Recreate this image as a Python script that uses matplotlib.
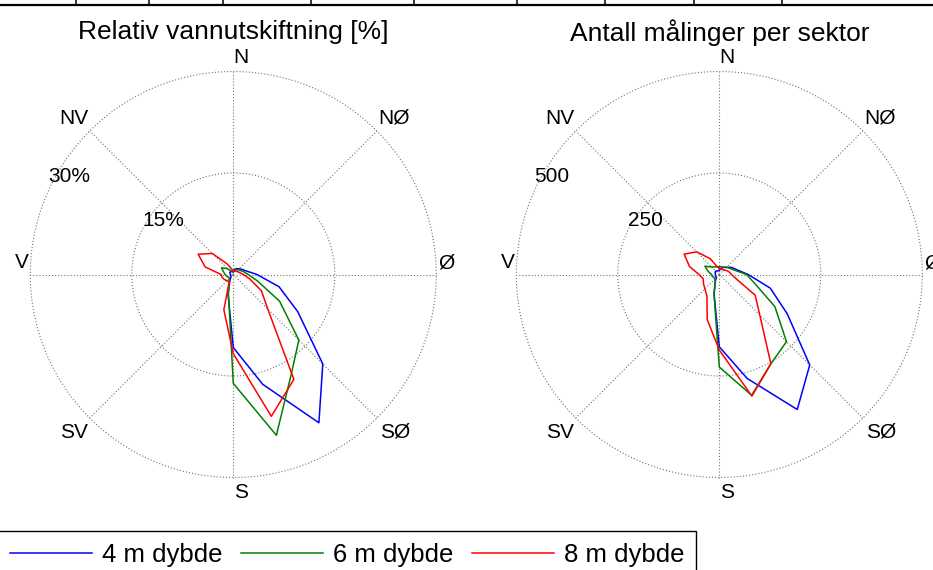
import numpy as np
import matplotlib.pyplot as plt
from matplotlib.lines import Line2D

plt.rcParams['font.family'] = ['Liberation Sans', 'DejaVu Sans']

# 15 degree direction sectors, compass convention (0 = N, clockwise)
sectors = np.arange(0, 360, 15)

# relative water exchange per sector [%]
rel_4m = [0.5, 0.8, 1.0, 1.2, 1.5, 2.0, 3.5, 7.0, 11.0, 18.7, 25.3, 16.8,
          10.8, 3.0, 1.0, 0.5, 0.4, 0.4, 0.4, 0.5, 0.6, 0.6, 0.5, 0.4]
rel_6m = [0.4, 0.6, 0.8, 1.0, 1.2, 1.6, 2.2, 3.7, 7.9, 13.7, 17.1, 24.6,
          16.1, 2.8, 1.2, 0.8, 0.8, 1.0, 1.2, 1.5, 2.0, 1.2, 0.6, 0.5]
rel_8m = [0.5, 0.5, 0.6, 0.7, 0.8, 1.0, 1.5, 2.5, 4.8, 7.2, 17.9, 21.7,
          11.7, 5.4, 1.2, 1.3, 1.5, 1.7, 1.8, 4.3, 6.0, 4.4, 1.8, 0.8]

# number of measurements per sector
cnt_4m = [10, 15, 20, 25, 35, 45, 71, 130, 193, 315, 384, 265,
          178, 50, 20, 10, 10, 10, 10, 10, 12, 12, 10, 10]
cnt_6m = [19, 20, 21, 25, 30, 40, 67, 92, 158, 234, 254, 308,
          228, 50, 20, 15, 15, 18, 19, 28, 41, 26, 22, 19]
cnt_8m = [15, 15, 15, 15, 20, 25, 30, 44, 102, 141, 254, 310,
          186, 115, 61, 50, 45, 41, 50, 76, 100, 79, 45, 20]

series_labels = ['4 m dybde', '6 m dybde', '8 m dybde']
colors = ['#0000ff', '#008000', '#ff0000']
compass = ['N', 'NØ', 'Ø', 'SØ', 'S', 'SV', 'V', 'NV']

# label offsets from the rose centre in pixels (x right, y down)
compass_px = [(7.7, -217.5), (161, -157), (212.7, -11.5), (161.5, 157.5),
              (7.7, 217.5), (-159, 157.5), (-211.5, -12.5), (-159, -156.5)]
AX_PX = 406.0

fig = plt.figure(figsize=(9.33, 5.70), dpi=100)
W, H = 933.0, 570.0


def rose(ax, data, rmax, rticks, rtick_labels, title):
    ax.set_theta_zero_location('N')
    ax.set_theta_direction(-1)
    ax.set_ylim(0, rmax)
    ax.grid(False)
    ax.set_xticks([])
    ax.set_yticks([])
    ax.spines['polar'].set_visible(False)

    dots = dict(ls=(0, (1, 1.8)), color='0.45', lw=0.8, clip_on=False)
    t = np.linspace(0, 2 * np.pi, 721)
    for r in rticks:
        ax.plot(t, np.full_like(t, r), **dots)
    for a in np.deg2rad(np.arange(0, 360, 45)):
        ax.plot([a, a], [0, rmax], **dots)

    lines = []
    th = np.deg2rad(np.append(sectors, sectors[0]))
    for vals, c, lab in zip(data, colors, series_labels):
        r = np.append(vals, vals[0])
        ln, = ax.plot(th, r, color=c, lw=1.1, label=lab)
        lines.append(ln)

    for s, (dx, dy) in zip(compass, compass_px):
        ax.text(0.5 + dx / AX_PX, 0.5 - dy / AX_PX, s, transform=ax.transAxes,
                ha='center', va='center', fontsize=15, clip_on=False)

    # ring labels sit up and to the left of the centre
    for (dx, dy), s in zip([(-91, -54.5), (-185, -98.5)], rtick_labels):
        ax.text(0.5 + dx / AX_PX, 0.5 - dy / AX_PX, s, transform=ax.transAxes,
                ha='left', va='center', fontsize=15)

    ax.text(0.5, 1 + 39 / AX_PX, title, transform=ax.transAxes,
            ha='center', va='center', fontsize=19)
    return lines


ax1 = fig.add_axes([(233.3 - 203) / W, (H - 477.5) / H, AX_PX / W, AX_PX / H],
                   projection='polar')
ax2 = fig.add_axes([(719.3 - 203) / W, (H - 477.5) / H, AX_PX / W, AX_PX / H],
                   projection='polar')

handles = rose(ax1, [rel_4m, rel_6m, rel_8m], 30, [15, 30], ['15%', '30%'],
               'Relativ vannutskiftning [%]')
rose(ax2, [cnt_4m, cnt_6m, cnt_8m], 500, [250, 500], ['250', '500'],
     'Antall målinger per sektor')

leg = fig.legend(handles, series_labels, ncol=3, loc='upper left',
                 bbox_to_anchor=(-0.002, 1 - 531 / H), fontsize=18.5,
                 frameon=True, fancybox=False, edgecolor='k', framealpha=1,
                 handlelength=3.2, handletextpad=0.4, columnspacing=0.7,
                 borderaxespad=0, borderpad=0.45)
leg.get_frame().set_linewidth(1.0)

# table rule along the top edge
y_rule = 1 - 4.5 / H
fig.add_artist(Line2D([0, 1], [y_rule, y_rule], transform=fig.transFigure,
                      color='k', lw=1.6))
for x in [76, 149, 223, 311, 414, 517, 605, 694, 782]:
    fig.add_artist(Line2D([x / W, x / W], [1, y_rule], transform=fig.transFigure,
                          color='k', lw=1.1))

fig.savefig('out.png', dpi=100)
